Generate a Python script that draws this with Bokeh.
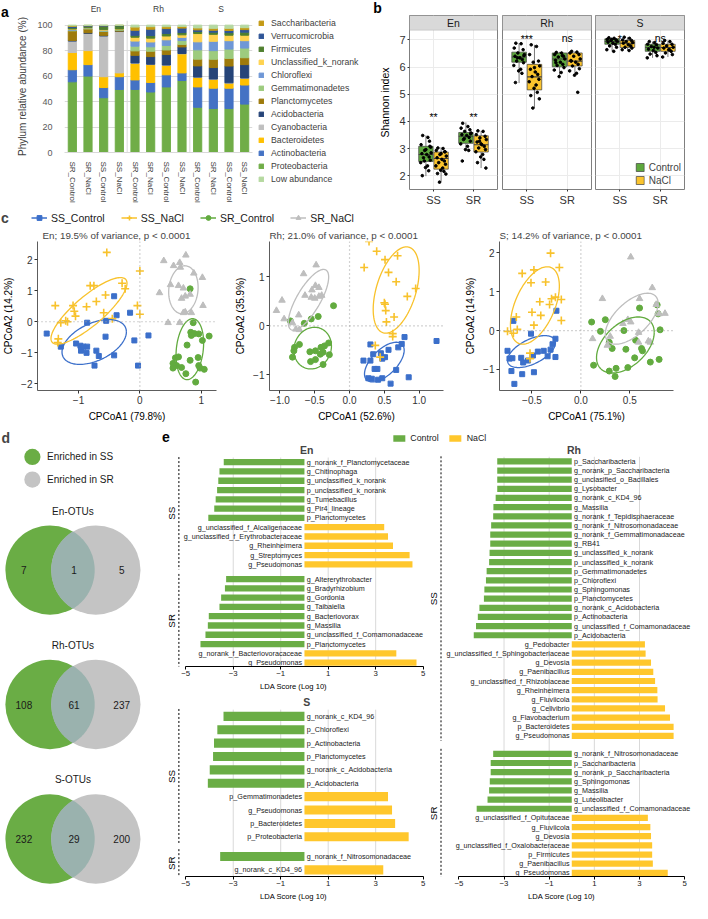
import numpy as np
from math import pi
from bokeh.plotting import figure
from bokeh.models import (Range1d, Legend, LegendItem, Span, BoxAnnotation, Label, LinearAxis, FixedTicker,
                          ColumnDataSource)
from bokeh.layouts import row, column
from bokeh.embed import file_html
from bokeh.resources import INLINE
from bokeh.core.properties import value

FONT = "Liberation Sans"
KX = 692.0 / 708.0
KY = 903.0 / 919.0

# ---------------- panel a data ----------------
bar_groups = ["En", "Rh", "S"]
bar_samples = ["SR_Control", "SR_NaCl", "SS_Control", "SS_NaCl"]
phyla_stack = ["Proteobacteria", "Actinobacteria", "Bacteroidetes", "Cyanobacteria", "Acidobacteria",
               "Planctomycetes", "Gemmatimonadetes", "Chloroflexi", "Unclassified_k_norank", "Firmicutes",
               "Verrucomicrobia", "Saccharibacteria", "Low abundance"]
proteobacteria = [55.5, 60, 43, 49.5, 49.5, 47.5, 51.5, 56.5, 35.5, 34.5, 34.5, 38]
actinobacteria = [9.5, 9, 8, 10, 7.5, 7.5, 9.5, 6, 16, 16, 16, 15]
bacteroidetes = [13.5, 11, 8.5, 3, 13, 14, 7.5, 15, 7.5, 7, 4, 5.3]
cyanobacteria = [9, 13.5, 32, 32.5, 0.3, 0.3, 0.2, 0.2, 0.2, 0.2, 0.2, 0.2]
acidobacteria = [0.5, 0.5, 0.5, 0.3, 6, 6, 8.2, 5.2, 8.8, 9, 13.2, 10.5]
planctomycetes = [7.5, 3, 3, 0.7, 3.5, 4.2, 3.6, 2, 5.3, 6.5, 6, 5.4]
gemmatimonadetes = [0.5, 0.5, 0.5, 0.5, 3.7, 3.5, 3.6, 3, 7.3, 6.8, 7.3, 7.6]
chloroflexi = [0.5, 0.3, 0.5, 0.2, 4, 3.8, 4.4, 2.5, 6.3, 7.3, 6.6, 5.8]
unclassified_k_norank = [0.5, 0.2, 0.5, 0.3, 3, 3, 3, 2, 6.5, 5.5, 4.3, 4.3]
firmicutes = [1, 1, 2.5, 2.5, 1.5, 2, 2, 1.8, 1.6, 1.7, 2, 2.4]
verrucomicrobia = [1, 0.5, 0.5, 0.2, 4, 5, 3.8, 3.5, 1.3, 1.5, 1.7, 2]
saccharibacteria = [0.5, 0.3, 0.3, 0.2, 2.5, 2, 1.5, 1.3, 1.5, 1.5, 1.7, 1.5]
low_abundance = [0.5, 0.2, 0.2, 0.1, 1.5, 1.2, 1.2, 1, 2.2, 2.5, 2.5, 2]
phylum_colors = ["#70AD47", "#4472C4", "#FFC000", "#BFBFBF", "#264478", "#9E7A0B", "#9DCB7E",
                 "#6F97D6", "#FFD34F", "#4F7F2E", "#2F5597", "#C49A14", "#B5D9A0"]
legend_order_a = ["Saccharibacteria", "Verrucomicrobia", "Firmicutes", "Unclassified_k_norank", "Chloroflexi",
                  "Gemmatimonadetes", "Planctomycetes", "Acidobacteria", "Cyanobacteria", "Bacteroidetes",
                  "Actinobacteria", "Proteobacteria", "Low abundance"]

# ---------------- panel b data ----------------
shannon_facets = ["En", "Rh", "S"]
shannon_sites = ["SS", "SR"]
shannon_treatments = ["Control", "NaCl"]
# order inside each facet: SS-Control, SS-NaCl, SR-Control, SR-NaCl
shannon_lower = [1.98, 1.76, 2.96, 2.28, 5.41, 4.49, 5.64, 5.70, 6.58, 6.61, 6.34, 6.37]
shannon_q1 = [2.52, 2.24, 3.19, 2.87, 6.18, 5.16, 6.01, 6.04, 6.84, 6.72, 6.58, 6.58]
shannon_median = [2.78, 2.63, 3.45, 3.14, 6.37, 5.64, 6.30, 6.22, 6.94, 6.88, 6.72, 6.72]
shannon_q3 = [3.08, 2.87, 3.59, 3.47, 6.55, 6.10, 6.52, 6.52, 7.04, 6.98, 6.84, 6.84]
shannon_upper = [3.48, 3.05, 3.96, 3.65, 6.88, 6.82, 6.56, 6.58, 7.08, 7.10, 6.94, 6.98]
en_ss_control_pts = [3.48, 3.41, 3.14, 3.08, 2.93, 2.84, 2.81, 2.78, 2.69, 2.66, 2.57, 2.48, 2.36, 2.30, 2.18, 2.00, 3.05, 2.54, 2.96, 3.27]
en_ss_nacl_pts = [3.02, 3.00, 2.93, 2.88, 2.78, 2.72, 2.66, 2.60, 2.54, 2.48, 2.42, 2.36, 2.28, 2.20, 2.16, 2.08, 2.06, 1.76, 2.81, 2.88]
en_sr_control_pts = [3.93, 3.81, 3.75, 3.69, 3.63, 3.57, 3.51, 3.48, 3.41, 3.33, 3.27, 3.17, 3.08, 2.96, 2.93, 2.54, 3.54, 3.37]
en_sr_nacl_pts = [3.65, 3.63, 3.51, 3.45, 3.39, 3.33, 3.24, 3.14, 3.08, 3.02, 2.96, 2.88, 2.78, 2.69, 2.60, 2.48, 2.28, 3.27, 3.17]
rh_ss_control_pts = [6.88, 6.86, 6.70, 6.64, 6.52, 6.46, 6.40, 6.34, 6.28, 6.22, 6.16, 6.06, 5.92, 5.86, 5.77, 5.43, 6.42, 6.34]
rh_ss_nacl_pts = [6.82, 6.76, 6.46, 6.22, 6.18, 6.04, 5.92, 5.82, 5.73, 5.65, 5.55, 5.46, 5.34, 5.22, 5.07, 4.95, 4.83, 4.49, 5.98]
rh_sr_control_pts = [6.54, 6.52, 6.46, 6.40, 6.37, 6.30, 6.25, 6.18, 6.10, 6.06, 5.98, 5.89, 5.80, 5.65, 6.42, 6.16]
rh_sr_nacl_pts = [6.58, 6.55, 6.52, 6.46, 6.40, 6.30, 6.24, 6.18, 6.10, 6.04, 5.94, 5.86, 5.77, 5.70, 5.07, 6.22]
s_ss_control_pts = [7.08, 7.06, 7.02, 7.00, 6.98, 6.94, 6.92, 6.88, 6.84, 6.78, 6.73, 6.64, 6.58, 7.02]
s_ss_nacl_pts = [7.10, 7.06, 7.00, 6.98, 6.94, 6.90, 6.88, 6.82, 6.78, 6.73, 6.70, 6.64, 6.61]
s_sr_control_pts = [6.94, 6.90, 6.84, 6.82, 6.76, 6.70, 6.66, 6.61, 6.54, 6.48, 6.42, 6.34, 6.73]
s_sr_nacl_pts = [6.98, 6.94, 6.88, 6.84, 6.78, 6.73, 6.70, 6.64, 6.58, 6.52, 6.46, 6.37, 6.64]
shannon_points = [en_ss_control_pts, en_ss_nacl_pts, en_sr_control_pts, en_sr_nacl_pts,
                  rh_ss_control_pts, rh_ss_nacl_pts, rh_sr_control_pts, rh_sr_nacl_pts,
                  s_ss_control_pts, s_ss_nacl_pts, s_sr_control_pts, s_sr_nacl_pts]
shannon_signif = ["**", "**", "***", "ns", "*", "ns"]
shannon_signif_y = [4.17, 4.17, 7.03, 7.08, 7.03, 7.08]

# ---------------- panel c data ----------------
cpcoa_groups = ["SS_Control", "SS_NaCl", "SR_Control", "SR_NaCl"]
cpcoa_titles = ["En; 19.5% of variance, p < 0.0001", "Rh; 21.0% of variance, p < 0.0001",
                "S; 14.2% of variance, p < 0.0001"]
cpcoa_xlabels = ["CPCoA1 (79.8%)", "CPCoA1 (52.6%)", "CPCoA1 (75.1%)"]
cpcoa_ylabels = ["CPCoA2 (14.2%)", "CPCoA2 (35.9%)", "CPCoA2 (14.9%)"]
en_ss_control_x = [-0.42, -0.16, -0.38, -0.86, -0.55, -1.52, -1.29, -1.04, -0.97, -0.96, -0.92, -0.86, -0.87, -0.71, -0.67, -0.74, -0.56, -0.42, -0.09, 0.14, -0.03]
en_ss_control_y = [0.82, 0.29, 0.21, -0.03, 0.03, -0.38, -0.80, -0.70, -0.77, -0.93, -0.80, -0.80, -1.00, -0.93, -1.10, -1.41, -0.48, -1.08, -0.60, -0.44, -1.41]
en_ss_nacl_x = [-0.54, 0.00, -0.81, -0.75, -0.29, -0.24, -0.56, -1.38, -1.09, -0.87, -0.71, -1.07, -1.05, -1.29, -1.21, -1.18, -0.59, -0.45, -0.04, 0.00, -1.33, -1.34]
en_ss_nacl_y = [2.23, 1.63, 1.16, 1.16, 1.24, 1.06, 0.86, 0.52, 0.52, 0.48, 0.65, 0.34, 0.18, -0.03, 0.03, 0.00, 0.29, 0.10, 0.52, 0.24, -0.55, -0.67]
en_sr_control_x = [0.82, 0.87, 0.83, 0.89, 0.84, 0.96, 1.13, 1.02, 0.77, 0.58, 0.63, 0.54, 0.60, 0.68, 0.82, 0.95, 0.96, 0.98, 0.75, 0.91, 1.05, 0.54]
en_sr_control_y = [1.06, -0.03, -0.34, -0.38, -0.44, -0.39, -0.46, -0.60, -0.75, -1.16, -1.13, -1.34, -1.41, -1.47, -1.24, -1.15, -1.41, -1.49, -1.67, -1.94, -1.53, -1.49]
en_sr_nacl_x = [0.39, 0.75, 0.65, 0.55, 0.66, 0.88, 1.02, 0.50, 0.63, 0.71, 0.32, 0.82, 0.74, 0.68, 1.03, 0.74, 0.84, 0.71, 0.46, 0.65]
en_sr_nacl_y = [1.96, 2.14, 1.90, 1.80, 1.75, 1.56, 1.42, 1.19, 1.16, 1.08, 0.93, 0.88, 0.82, 0.75, 0.52, 0.31, 0.29, 0.29, -0.03, -0.03]
rh_ss_control_x = [1.25, 0.79, 0.75, 0.70, 0.30, 0.45, 0.51, 0.47, 0.20, 0.30, 0.36, 0.40, 0.27, 0.32, 0.47, 0.41, 0.67, 0.59, 0.85, 0.34, 0.56]
rh_ss_control_y = [-0.31, -0.23, -0.37, -0.44, -0.38, -0.56, -0.64, -0.67, -0.71, -0.71, -0.88, -0.88, -1.07, -1.08, -1.07, -1.10, -0.90, -1.18, -1.05, -0.58, -0.49]
rh_ss_nacl_x = [0.67, 0.95, 0.83, 0.50, 0.52, 0.51, 0.64, 0.53, 0.62, 0.62, 0.37, 0.44, 0.28, 0.39, 0.51, 0.69, 0.21, 0.56]
rh_ss_nacl_y = [0.90, 0.76, 0.60, 0.47, 0.31, 0.44, 0.18, 0.08, -0.16, -0.22, -0.40, -0.64, 1.72, 1.52, 1.35, 1.43, 1.19, 1.09]
rh_sr_control_x = [-0.23, -0.45, -0.55, -0.85, -0.65, -0.72, -0.79, -0.82, -0.80, -0.57, -0.49, -0.41, -0.36, -0.30, -0.29, -0.38, -0.56, -0.49, -0.38, -0.42]
rh_sr_control_y = [0.41, 0.19, 0.14, 0.10, 0.05, -0.38, -0.44, -0.64, -0.51, -0.53, -0.51, -0.44, -0.41, -0.35, -0.59, -0.54, -0.73, -0.69, -0.79, -0.58]
rh_sr_nacl_x = [-0.49, -0.44, -0.54, -0.64, -0.55, -0.50, -0.44, -0.40, -0.97, -1.05, -0.94, -0.73, -0.82, -0.77, -0.72, -0.66, -0.48]
rh_sr_nacl_y = [0.82, 0.78, 0.73, 0.62, 0.58, 0.56, 0.60, 0.62, 0.52, 0.31, 0.14, 0.22, 0.06, -0.07, -0.08, 1.06, 1.24]
s_ss_control_x = [-0.25, -0.69, -0.51, -0.26, -0.31, -0.38, -0.44, -0.49, -0.54, -0.59, -0.34, -0.26, -0.75, -0.73, -0.70, -0.71, -0.60, -0.48, -0.68, -0.29, -0.61]
s_ss_control_y = [0.51, 0.25, -0.08, -0.21, -0.49, -0.52, -0.54, -0.64, -0.77, -0.82, -0.66, -0.68, -0.52, -0.72, -0.71, -1.04, -1.12, -1.07, -1.37, -0.35, -0.70]
s_ss_nacl_x = [-0.51, -0.36, -0.42, -0.32, -0.26, -0.30, -0.20, -0.20, -0.50, -0.41, -0.48, -0.66, -0.65, -0.75, -0.69, -0.52, -0.52, -0.31, -0.22, -0.48, -0.60]
s_ss_nacl_y = [1.23, 1.25, 0.74, 0.67, 0.86, 0.82, 0.80, 0.26, 0.47, 0.39, 0.14, 0.35, 0.03, -0.02, -0.07, -0.58, -0.72, 1.99, 1.62, 1.56, 1.47]
s_sr_control_x = [0.11, 0.25, 0.60, 0.78, 0.79, 0.44, 0.56, 0.81, 0.20, 0.29, 0.32, 0.46, 0.62, 0.63, 0.55, 0.80, 0.13, 0.29, 0.36, 0.48, 0.35, 0.71]
s_sr_control_y = [0.22, 0.28, 0.58, 0.66, 0.43, 0.00, -0.25, 0.02, -0.02, -0.30, -0.46, -0.48, -0.46, -0.52, -0.70, -0.74, -0.89, -1.04, -0.97, -0.95, -1.18, -0.81]
s_sr_nacl_x = [0.22, 0.73, 0.60, 0.86, 0.80, 0.77, 0.48, 0.51, 0.43, 0.59, 0.69, 0.71, 0.59, 0.27, 0.12, 0.30, 0.51]
s_sr_nacl_y = [0.82, 1.10, 0.82, 0.44, 0.43, 0.67, 0.28, 0.22, 0.18, -0.05, -0.27, -0.30, -0.30, -0.38, -0.21, -0.15, 1.89]
# ellipse outlines: centre, half extents, tilt (order as cpcoa_groups)
en_ell_cx = [-0.745, -0.83, 0.815, 0.71]
en_ell_cy = [-0.65, 0.35, -0.88, 1.03]
en_ell_rx = [0.525, 0.62, 0.225, 0.24]
en_ell_ry = [0.72, 1.07, 0.98, 0.77]
en_ell_rho = [0.45, 0.83, 0.2, 0.1]
rh_ell_cx = [0.50, 0.67, -0.53, -0.59]
rh_ell_cy = [-0.74, 0.73, -0.455, 0.53]
rh_ell_rx = [0.285, 0.33, 0.27, 0.29]
rh_ell_ry = [0.405, 0.88, 0.425, 0.62]
rh_ell_rho = [0.6, 0.45, 0.1, 0.75]
s_ell_cx = [-0.505, -0.47, 0.455, 0.52]
s_ell_cy = [-0.54, 0.645, -0.37, 0.305]
s_ell_rx = [0.245, 0.25, 0.295, 0.27]
s_ell_ry = [0.41, 0.995, 0.72, 0.655]
s_ell_rho = [0.55, 0.5, 0.45, 0.6]

# ---------------- panel d data ----------------
venn_sets = ["En-OTUs", "Rh-OTUs", "S-OTUs"]
venn_ss_only = [7, 108, 232]
venn_shared = [1, 61, 29]
venn_sr_only = [5, 237, 200]
venn_legend = ["Enriched in SS", "Enriched in SR"]

# ---------------- panel e data ----------------
en_lda_names = ["g_norank_f_Planctomycetaceae", "g_Chitinophaga", "g_unclassified_k_norank", "p_unclassified_k_norank",
                "g_Tumebacillus", "g_Pir4_lineage", "p_Planctomycetes", "g_unclassified_f_Alcaligenaceae",
                "g_unclassified_f_Erythrobacteraceae", "g_Rheinheimera", "g_Streptomyces", "g_Pseudomonas",
                "g_Altererythrobacter", "g_Bradyrhizobium", "g_Gordonia", "g_Taibaiella", "g_Bacteriovorax",
                "g_Massilia", "g_unclassified_f_Comamonadaceae", "p_Planctomycetes",
                "g_norank_f_Bacteriovoracaceae", "g_Pseudomonas"]
en_lda_scores = [-3.40, -3.58, -3.63, -3.68, -3.74, -3.80, -4.05, 3.36, 3.52, 3.73, 4.43, 4.55,
                 -3.30, -3.35, -3.51, -3.58, -4.03, -4.07, -4.17, -4.38, 3.87, 4.72]
en_lda_groups = ["SS"] * 12 + ["SR"] * 10
s_lda_names = ["g_norank_c_KD4_96", "p_Chloroflexi", "p_Actinobacteria", "p_Planctomycetes",
               "g_norank_c_Acidobacteria", "p_Acidobacteria", "p_Gemmatimonadetes", "g_Pseudomonas",
               "p_Bacteroidetes", "p_Proteobacteria", "g_norank_f_Nitrosomonadaceae", "g_norank_c_KD4_96"]
s_lda_scores = [-3.41, -3.67, -3.81, -3.85, -3.99, -4.07, 3.52, 3.69, 3.82, 4.39, -3.55, 3.32]
s_lda_groups = ["SS"] * 10 + ["SR"] * 2
rh_lda_names = ["p_Saccharibacteria", "g_norank_p_Saccharibacteria", "g_unclasified_o_Bacillales", "g_Lysobacter",
                "g_norank_c_KD4_96", "g_Massilia", "g_norank_f_Tepidisphaeraceae", "g_norank_f_Nitrosomonadaceae",
                "g_norank_f_Gemmatimonadaceae", "g_RB41", "g_unclassified_k_norank", "p_unclassified_k_norank",
                "p_Gemmatimonadetes", "p_Chloroflexi", "g_Sphingomonas", "p_Planctomycetes",
                "g_norank_c_Acidobacteria", "p_Actinobacteria", "g_unclassified_f_Comamonadaceae", "p_Acidobacteria",
                "g_Pedobacter", "g_unclassified_f_Sphingobacteriaceae", "g_Devosia", "g_Paenibacillus",
                "g_unclassified_f_Rhizobiaceae", "g_Rheinheimera", "g_Fluviicola", "g_Cellvibrio",
                "g_Flavobacterium", "p_Bacteroidetes", "g_Pseudomonas",
                "g_norank_f_Nitrosomonadaceae", "p_Saccharibacteria", "g_norank_p_Saccharibacteria", "g_Sphingomonas",
                "g_Massilia", "g_Luteolibacter", "g_unclassified_f_Comamonadaceae", "g_unclassified_f_Opitutaceae",
                "g_Fluviicola", "g_Devosia", "g_unclassified_f_Oxalobacteraceae", "p_Firmicutes", "g_Paenibacillus",
                "g_Pseudomonas"]
rh_lda_scores = [-3.30, -3.30, -3.30, -3.30, -3.37, -3.47, -3.48, -3.57, -3.61, -3.61, -3.64, -3.66, -3.77, -3.80,
                 -3.87, -3.89, -4.09, -4.16, -4.24, -4.34, 3.24, 3.27, 3.51, 3.61, 3.69, 3.79, 3.80, 4.13, 4.35,
                 4.51, 4.51,
                 -3.48, -3.59, -3.59, -3.63, -3.66, -3.73, -4.21, 3.37, 3.48, 3.51, 3.56, 3.56, 3.59, 4.25]
rh_lda_groups = ["SS"] * 31 + ["SR"] * 14
lda_legend = ["Control", "NaCl"]

# ---------------- styling ----------------
GREEN = "#6AAD45"
YELLOW = "#FFC72C"
BOX_GREEN = "#5EA83D"
BOX_YELLOW = "#FBC42D"
PT_COLORS = ["#3B6FCA", "#F8C22C", "#62AB3F", "#BEBEBE"]
PT_MARKERS = ["square", "cross", "circle", "triangle"]
PT_SIZES = [5, 8, 6, 6.5]
JITTER = [-0.08, 0.05, -0.12, 0.10, -0.03, 0.13, -0.10, 0.02, 0.08, -0.06, 0.11, -0.13, 0.04, -0.01,
          0.07, -0.09, 0.12, -0.04, 0.00, 0.09, -0.11, 0.06]
LDA_FS = "7.2px"


def sx(v):
    return int(round(v * KX))


def sy(v):
    return int(round(v * KY))


def base_fig(cx0, cx1, cy0, cy1, fx0, fx1, fy0, fy1, **kw):
    p = figure(width=sx(cx1) - sx(cx0), height=sy(cy1) - sy(cy0),
               min_border_left=sx(fx0) - sx(cx0), min_border_right=sx(cx1) - sx(fx1),
               min_border_top=sy(fy0) - sy(cy0), min_border_bottom=sy(cy1) - sy(fy1),
               output_backend="svg", toolbar_location=None, **kw)
    p.outline_line_color = None
    p.background_fill_color = "white"
    p.border_fill_color = "white"
    return p


def box(fig):
    # wrap a figure so that the layout does not align its frame with its neighbours
    return column(fig)


def letter_fig(cx0, cx1, cy0, cy1, text, rx, ry):
    p = base_fig(cx0, cx1, cy0, cy1, cx0, cx1, cy0, cy1, x_range=Range1d(cx0, cx1), y_range=Range1d(cy1, cy0),
                 x_axis_location=None, y_axis_location=None)
    p.grid.visible = False
    p.add_layout(Label(x=rx, y=ry, text=text, text_font=FONT, text_font_size="14px", text_font_style="bold",
                       text_align="left", text_baseline="middle", text_color="black"))
    return p


def style_axis(ax, size="11px", color="#4D4D4D"):
    ax.major_label_text_font = FONT
    ax.major_label_text_font_size = size
    ax.major_label_text_color = color
    ax.axis_label_text_font = FONT
    ax.axis_label_text_font_style = "normal"
    ax.axis_label_text_color = "black"
    ax.minor_tick_line_color = None


# ================= panel a =================
n_bars = len(bar_groups) * len(bar_samples)
bar_x = [i + 0.5 for i in range(n_bars)]
bar_labels = [s for g in bar_groups for s in bar_samples]
phylum_values = [proteobacteria, actinobacteria, bacteroidetes, cyanobacteria, acidobacteria, planctomycetes,
                 gemmatimonadetes, chloroflexi, unclassified_k_norank, firmicutes, verrucomicrobia,
                 saccharibacteria, low_abundance]
src_a = {"x": bar_x}
for nm, vals in zip(phyla_stack, phylum_values):
    src_a[nm] = vals
la = letter_fig(0, 14, 0, 213, "a", 0.5, 12)
pa = base_fig(14, 260, 0, 213, 52, 258, 13, 155, x_range=Range1d(0, n_bars), y_range=Range1d(0, 103.65))
pa.vbar_stack(phyla_stack, x="x", width=0.52, color=phylum_colors, source=ColumnDataSource(src_a))
pa.ygrid.grid_line_color = "#D9D9D9"
pa.xgrid.grid_line_color = None
pa.yaxis.ticker = FixedTicker(ticks=[0, 20, 40, 60, 80, 100])
style_axis(pa.yaxis[0], "9px", "#595959")
pa.yaxis.axis_line_color = None
pa.yaxis.major_tick_line_color = None
pa.yaxis.axis_label = "Phylum relative abundance (%)"
pa.yaxis.axis_label_text_font_size = "10px"
pa.yaxis.axis_label_text_color = "#404040"
pa.yaxis.axis_label_standoff = 6
pa.yaxis.major_label_standoff = 6
pa.xaxis.ticker = FixedTicker(ticks=bar_x)
pa.xaxis.major_label_overrides = dict(zip(bar_x, bar_labels))
style_axis(pa.xaxis[0], "8px", "#404040")
pa.xaxis.major_label_orientation = "vertical"
pa.xaxis.axis_line_color = "#D9D9D9"
pa.xaxis.major_tick_line_color = None
pa.xaxis.major_label_standoff = 3
grp_centers = [(k + 0.5) * len(bar_samples) for k in range(len(bar_groups))]
ax_top = LinearAxis(ticker=FixedTicker(ticks=grp_centers), axis_line_color=None, major_tick_line_color=None,
                    minor_tick_line_color=None, major_label_standoff=1)
ax_top.major_label_overrides = dict(zip(grp_centers, bar_groups))
style_axis(ax_top, "8.5px", "#404040")
pa.add_layout(ax_top, "above")
for k in range(1, len(bar_groups)):
    pa.add_layout(Span(location=k * len(bar_samples), dimension="height", line_color="#D9D9D9", line_width=1))

# legend of panel a in its own frame (renderers hidden, legend glyphs only)
pal = base_fig(260, 370, 0, 213, 260, 370, 13, 213, x_range=Range1d(0, 1), y_range=Range1d(0, 1),
               x_axis_location=None, y_axis_location=None)
pal.grid.visible = False
rs_leg = pal.vbar_stack(phyla_stack, x="x", width=0.52, color=phylum_colors, source=ColumnDataSource(src_a),
                        visible=False)
rmap = dict(zip(phyla_stack, rs_leg))
leg_a = Legend(items=[LegendItem(label=nm, renderers=[rmap[nm]]) for nm in legend_order_a],
               location="top_left", glyph_width=6, glyph_height=6, label_height=11, spacing=2,
               padding=0, margin=4, label_standoff=7, border_line_color=None, background_fill_alpha=0,
               label_text_font=FONT, label_text_font_size="8.7px", label_text_color="#404040",
               inactive_fill_alpha=0)
pal.add_layout(leg_a)

# ================= panel b =================
b_canvas = [(370, 511, 418.3, 509), (511, 606, 513.3, 604.3), (606, 708, 608.3, 700)]
pbs = []
for fi, facet in enumerate(shannon_facets):
    cx0, cx1, fx0, fx1 = b_canvas[fi]
    cy0 = 15 if fi == 0 else 0
    p = base_fig(cx0, cx1, cy0, 213, fx0, fx1, 15, 192.3,
                 x_range=Range1d(0.4, 2.6), y_range=Range1d(1.49, 7.90))
    p.outline_line_color = "#7F7F7F"
    p.xaxis.ticker = FixedTicker(ticks=[1, 2])
    p.xaxis.major_label_overrides = {1: shannon_sites[0], 2: shannon_sites[1]}
    p.yaxis.ticker = FixedTicker(ticks=[2, 3, 4, 5, 6, 7])
    for ax in (p.xaxis[0], p.yaxis[0]):
        style_axis(ax, "11px", "#333333")
        ax.axis_line_color = None
        ax.major_tick_line_color = "#333333"
        ax.major_tick_out = 2
        ax.major_tick_in = 0
        ax.major_label_standoff = 2
    p.grid.grid_line_color = "#EBEBEB"
    if fi == 0:
        p.yaxis.axis_label = "Shannon index"
        p.yaxis.axis_label_text_font_size = "10.5px"
        p.yaxis.axis_label_standoff = 5
    else:
        p.yaxis.visible = False
    box_r = []
    for ti, trt in enumerate(shannon_treatments):
        xs, q1s, q3s, meds, los, his = [], [], [], [], [], []
        for si, site in enumerate(shannon_sites):
            k = fi * 4 + si * 2 + ti
            xc = (si + 1) + (ti - 0.5) * 0.38
            xs.append(xc)
            q1s.append(shannon_q1[k]); q3s.append(shannon_q3[k]); meds.append(shannon_median[k])
            los.append(shannon_lower[k]); his.append(shannon_upper[k])
        xs = np.array(xs)
        p.segment(x0=xs, y0=q3s, x1=xs, y1=his, line_color="#595959", line_width=0.8)
        p.segment(x0=xs, y0=los, x1=xs, y1=q1s, line_color="#595959", line_width=0.8)
        r = p.quad(left=xs - 0.18, right=xs + 0.18, bottom=q1s, top=q3s,
                   fill_color=BOX_GREEN if ti == 0 else BOX_YELLOW, line_color="#404040", line_width=0.7)
        box_r.append(r)
        p.segment(x0=xs - 0.18, y0=meds, x1=xs + 0.18, y1=meds, line_color="#404040", line_width=1.1)
        for si in range(len(shannon_sites)):
            k = fi * 4 + si * 2 + ti
            pts = shannon_points[k]
            jx = [xs[si] + JITTER[j % len(JITTER)] for j in range(len(pts))]
            p.scatter(x=jx, y=pts, size=2.6, color="black")
    p.text(x=[1, 2], y=shannon_signif_y[fi * 2:fi * 2 + 2], text=shannon_signif[fi * 2:fi * 2 + 2],
           text_align="center", text_baseline="alphabetic", text_font=value(FONT), text_font_size="10.5px",
           text_color="black")
    p.add_layout(BoxAnnotation(bottom=7.36, fill_color="#D9D9D9", fill_alpha=1, line_color="#7F7F7F",
                               line_width=0.8))
    p.add_layout(Label(x=1.5, y=7.63, text=facet, text_font=FONT, text_font_size="10.5px",
                       text_align="center", text_baseline="middle", text_color="#1A1A1A"))
    if fi == 2:
        leg_b = Legend(items=[LegendItem(label=shannon_treatments[0], renderers=[box_r[0]]),
                              LegendItem(label=shannon_treatments[1], renderers=[box_r[1]])],
                       location="bottom_right", glyph_width=10, glyph_height=10, label_height=12,
                       spacing=1, padding=2, margin=3, label_standoff=4, border_line_color=None,
                       background_fill_alpha=0, label_text_font=FONT, label_text_font_size="10px")
        p.add_layout(leg_b)
    pbs.append(p)
lb = letter_fig(370, 511, 0, 15, "b", 381, 7)

# ================= panel c legend =================
pcl = base_fig(0, 708, 213, 230, 0, 708, 213, 230, x_range=Range1d(0, 708), y_range=Range1d(230, 213),
               x_axis_location=None, y_axis_location=None)
pcl.grid.visible = False
pcl.add_layout(Label(x=0.5, y=221.5, text="c", text_font=FONT, text_font_size="14px", text_font_style="bold",
                     text_align="left", text_baseline="middle"))
en_pts_for_legend = [(en_ss_control_x, en_ss_control_y), (en_ss_nacl_x, en_ss_nacl_y),
                     (en_sr_control_x, en_sr_control_y), (en_sr_nacl_x, en_sr_nacl_y)]
leg_items = []
for gi, g in enumerate(cpcoa_groups):
    xs, ys = en_pts_for_legend[gi]
    lr = pcl.line(x=xs, y=ys, line_color=PT_COLORS[gi], line_width=1.4, visible=False)
    mr = pcl.scatter(x=xs, y=ys, marker=PT_MARKERS[gi], size=PT_SIZES[gi] + 1, color=PT_COLORS[gi],
                     line_width=1.6 if PT_MARKERS[gi] == "cross" else 1, visible=False)
    leg_items.append(LegendItem(label=g, renderers=[lr, mr]))
leg_c = Legend(items=leg_items, orientation="horizontal", location="center_left", glyph_width=16,
               glyph_height=12, label_height=13, spacing=16, padding=0, margin=sx(32), label_standoff=4,
               border_line_color=None, background_fill_alpha=0, label_text_font=FONT,
               label_text_font_size="10.5px", label_text_color="#1A1A1A", inactive_fill_alpha=0)
pcl.add_layout(leg_c)

# ================= panel c scatter =================
c_canvas = [(0, 237, 36, 221), (237, 473, 270, 453.3), (473, 708, 505, 688.3)]
c_xr = [(-1.67, 1.25), (-1.15, 1.35), (-0.832, 0.947)]
c_yr = [(-2.21, 2.58), (-1.32, 1.72), (-1.54, 2.29)]
c_xt = [[-1, 0, 1], [-1.0, -0.5, 0.0, 0.5, 1.0], [-0.5, 0.0, 0.5]]
c_xt_labels = [["−1", "0", "1"], ["−1.0", "−0.5", "0.0", "0.5", "1.0"], ["−0.5", "0.0", "0.5"]]
c_yt = [[-2, -1, 0, 1, 2], [-1, 0, 1], [-1, 0, 1, 2]]
c_yt_labels = [["−2", "−1", "0", "1", "2"], ["−1", "0", "1"], ["−1", "0", "1", "2"]]
c_pts = [en_pts_for_legend,
         [(rh_ss_control_x, rh_ss_control_y), (rh_ss_nacl_x, rh_ss_nacl_y),
          (rh_sr_control_x, rh_sr_control_y), (rh_sr_nacl_x, rh_sr_nacl_y)],
         [(s_ss_control_x, s_ss_control_y), (s_ss_nacl_x, s_ss_nacl_y),
          (s_sr_control_x, s_sr_control_y), (s_sr_nacl_x, s_sr_nacl_y)]]
c_ell = [(en_ell_cx, en_ell_cy, en_ell_rx, en_ell_ry, en_ell_rho),
         (rh_ell_cx, rh_ell_cy, rh_ell_rx, rh_ell_ry, rh_ell_rho),
         (s_ell_cx, s_ell_cy, s_ell_rx, s_ell_ry, s_ell_rho)]
tt = np.linspace(0, 2 * np.pi, 120)
pcs = []
for ci in range(3):
    cx0, cx1, fx0, fx1 = c_canvas[ci]
    p = base_fig(cx0, cx1, 230, 432, fx0, fx1, 243, 398,
                 x_range=Range1d(*c_xr[ci]), y_range=Range1d(*c_yr[ci]))
    p.grid.visible = False
    p.title.text = cpcoa_titles[ci]
    p.title.align = "left"
    p.title.text_font = FONT
    p.title.text_font_size = "9.8px"
    p.title.text_font_style = "normal"
    p.title.standoff = 2
    p.title.offset = 5 if ci == 0 else 0
    p.xaxis.ticker = FixedTicker(ticks=c_xt[ci])
    p.xaxis.major_label_overrides = dict(zip(c_xt[ci], c_xt_labels[ci]))
    p.yaxis.ticker = FixedTicker(ticks=c_yt[ci])
    p.yaxis.major_label_overrides = dict(zip(c_yt[ci], c_yt_labels[ci]))
    p.xaxis.axis_label = cpcoa_xlabels[ci]
    p.yaxis.axis_label = cpcoa_ylabels[ci]
    for ax in (p.xaxis[0], p.yaxis[0]):
        style_axis(ax, "10px", "#333333")
        ax.axis_label_text_font_size = "10px"
        ax.axis_line_color = "#333333"
        ax.axis_line_width = 0.8
        ax.major_tick_line_color = "#333333"
        ax.major_tick_out = 3
        ax.major_tick_in = 0
        ax.major_label_standoff = 2
        ax.axis_label_standoff = 4
    p.add_layout(Span(location=0, dimension="width", line_color="#A6A6A6", line_dash="1 3", line_width=1.2))
    p.add_layout(Span(location=0, dimension="height", line_color="#A6A6A6", line_dash="1 3", line_width=1.2))
    ecx, ecy, erx, ery, erho = c_ell[ci]
    for gi in range(4):
        xs, ys = c_pts[ci][gi]
        p.scatter(x=xs, y=ys, marker=PT_MARKERS[gi], size=PT_SIZES[gi], color=PT_COLORS[gi],
                  line_width=1.6 if PT_MARKERS[gi] == "cross" else 1)
    for gi in range(4):
        ex = ecx[gi] + erx[gi] * np.cos(tt)
        ey = ecy[gi] + ery[gi] * (erho[gi] * np.cos(tt) + np.sqrt(1 - erho[gi] ** 2) * np.sin(tt))
        p.line(x=ex, y=ey, line_color=PT_COLORS[gi], line_width=1.3)
    pcs.append(p)

# ================= panel d (Venn) =================
pd_ = base_fig(0, 160, 432, 919, 0, 160, 432, 919, x_range=Range1d(0, 160), y_range=Range1d(919, 432),
               x_axis_location=None, y_axis_location=None)
pd_.grid.visible = False
pd_.add_layout(Label(x=1, y=445.5, text="d", text_font=FONT, text_font_size="14px", text_font_style="bold",
                     text_baseline="middle"))
leg_cols = [GREEN, "#C4C4C4"]
ly = [465 + 23 * i for i in range(len(venn_legend))]
pd_.circle(x=[32.7] * len(venn_legend), y=ly, radius=8.3, fill_color=leg_cols, line_color=None)
pd_.text(x=[47.7] * len(venn_legend), y=ly, text=venn_legend, text_font=value(FONT), text_font_size="10px",
         text_baseline="middle", text_color="#1A1A1A")
R = 45.8
xa, xb = 50.8, 97.8
dd = xb - xa
alpha = np.arccos(dd / (2 * R))
for i, nm in enumerate(venn_sets):
    cy = 580 + i * 136.7
    pd_.circle(x=[xa], y=[cy], radius=R, fill_color=GREEN, line_color=None)
    pd_.circle(x=[xb], y=[cy], radius=R, fill_color="#C4C4C4", line_color=None)
    t1 = np.linspace(-alpha, alpha, 60)
    t2 = np.linspace(np.pi - alpha, np.pi + alpha, 60)
    lx = np.concatenate([xa + R * np.cos(t1), xb + R * np.cos(t2)])
    lyy = np.concatenate([cy + R * np.sin(t1), cy + R * np.sin(t2)])
    pd_.patch(x=lx, y=lyy, fill_color="#9AB2AE", line_color=None)
    pd_.text(x=[74.3], y=[cy - 60], text=[nm], text_font=value(FONT), text_font_size="10px",
             text_align="center", text_baseline="middle", text_color="#1A1A1A")
    pd_.text(x=[24, 75.5, 124.3], y=[cy] * 3,
             text=[str(venn_ss_only[i]), str(venn_shared[i]), str(venn_sr_only[i])],
             text_font=value(FONT), text_font_size="10px", text_align="center", text_baseline="middle",
             text_color="#1A1A1A")


# ================= panel e (LDA) =================
def lda_fig(cx0, cx1, cy0, cy1, fx0, fx1, fy1, zero_ref, ppu, names, scores, grps, gap,
            row0, spacing, title, title_y, dash_x, glab_x):
    order = []
    for g in grps:
        if g not in order:
            order.append(g)
    pos = np.array([-(i + gap * order.index(g)) for i, g in enumerate(grps)])
    sc = np.array(scores)
    xr = Range1d((fx0 - zero_ref) / ppu, (fx1 - zero_ref) / ppu)
    yr = Range1d(-(fy1 - row0) / spacing, (row0 - cy0) / spacing)
    p = base_fig(cx0, cx1, cy0, cy1, fx0, fx1, cy0, fy1, x_range=xr, y_range=yr, y_axis_location=None)
    p.grid.visible = False
    p.xaxis.ticker = FixedTicker(ticks=[-5, -3, -1, 1, 3, 5])
    p.xaxis.bounds = (-5, 5)
    style_axis(p.xaxis[0], "7.8px", "#1A1A1A")
    p.xaxis.axis_line_color = "black"
    p.xaxis.axis_line_width = 1.2
    p.xaxis.major_tick_line_color = "black"
    p.xaxis.major_tick_out = 3
    p.xaxis.major_tick_in = 0
    p.xaxis.major_label_standoff = 1
    p.xaxis.axis_label = "LDA Score (Log 10)"
    p.xaxis.axis_label_text_font_size = "7.6px"
    p.xaxis.axis_label_standoff = 3
    gx = [-3, -1, 1, 3]
    p.segment(x0=gx, y0=[pos[0] + 0.5] * 4, x1=gx, y1=[yr.start] * 4, line_color="#D9D9D9", line_width=1)
    neg = sc < 0
    p.hbar(y=pos[neg], left=0, right=sc[neg], height=0.68, fill_color=GREEN, line_color=None)
    p.hbar(y=pos[~neg], left=0, right=sc[~neg], height=0.68, fill_color=YELLOW, line_color=None)
    nm = np.array(names)
    p.text(x=[0.1] * int(neg.sum()), y=pos[neg], text=list(nm[neg]), text_align="left", text_baseline="middle",
           text_font=value(FONT), text_font_size=LDA_FS, text_color="#1A1A1A")
    p.text(x=[-0.1] * int((~neg).sum()), y=pos[~neg], text=list(nm[~neg]), text_align="right",
           text_baseline="middle", text_font=value(FONT), text_font_size=LDA_FS, text_color="#1A1A1A")
    gsel = np.array(grps)
    for g in order:
        gp = pos[gsel == g]
        p.segment(x0=[dash_x], y0=[gp[0] + 0.55], x1=[dash_x], y1=[gp[-1] - 0.55], line_color="black",
                  line_dash="2 2", line_width=1)
        p.text(x=[glab_x], y=[(gp[0] + gp[-1]) / 2], text=[g], angle=pi / 2, text_align="center",
               text_baseline="middle", text_font=value(FONT), text_font_size="9.8px", text_color="black")
    p.add_layout(Label(x=0.1, y=(row0 - title_y) / spacing, text=title, text_font=FONT,
                       text_font_size="10.5px", text_font_style="bold", text_align="center",
                       text_baseline="middle"))
    return p


pe_en = lda_fig(160, 437, 453, 706, 163, 437, 678.3, 311.2, 24.27, en_lda_names, en_lda_scores,
                en_lda_groups, 0.58, 470, 9.47, "En", 458, -5.29, -5.61)
pe_s = lda_fig(160, 437, 706, 919, 163, 437, 897.7, 311.2, 24.27, s_lda_names, s_lda_scores,
               s_lda_groups, 0.47, 729, 14.1, "S", 714.3, -5.29, -5.61)
pe_rh = lda_fig(437, 708, 453, 919, 440, 708, 895.7, 584.5, 23.1, rh_lda_names, rh_lda_scores,
                rh_lda_groups, 0.96, 469.3, 9.4, "Rh", 458, -5.79, -6.13)

le = letter_fig(160, 190, 432, 453, "e", 165.5, 444.5)
pel = base_fig(190, 708, 432, 453, 190, 708, 432, 453, x_range=Range1d(190, 708), y_range=Range1d(453, 432),
               x_axis_location=None, y_axis_location=None)
pel.grid.visible = False
lda_sign = np.array(en_lda_scores)
r_ctrl = pel.hbar(y=list(range(int((lda_sign < 0).sum()))), left=0, right=list(lda_sign[lda_sign < 0]),
                  height=0.7, fill_color=GREEN, line_color=None, visible=False)
r_nacl = pel.hbar(y=list(range(int((lda_sign > 0).sum()))), left=0, right=list(lda_sign[lda_sign > 0]),
                  height=0.7, fill_color=YELLOW, line_color=None, visible=False)
leg_e = Legend(items=[LegendItem(label=lda_legend[0], renderers=[r_ctrl]),
                      LegendItem(label=lda_legend[1], renderers=[r_nacl])],
               orientation="horizontal", location="bottom_center", glyph_width=15, glyph_height=8,
               label_height=12, spacing=9, padding=0, margin=1, label_standoff=4, border_line_color=None,
               background_fill_alpha=0, label_text_font=FONT, label_text_font_size="8.8px",
               label_text_color="#1A1A1A", inactive_fill_alpha=0)
pel.add_layout(leg_e)

row1 = row(box(la), box(pa), box(pal), column(box(lb), box(pbs[0])), box(pbs[1]), box(pbs[2]))
row3 = row(box(pcs[0]), box(pcs[1]), box(pcs[2]))
row4 = row(box(pd_), column(row(box(le), box(pel)),
                            row(column(box(pe_en), box(pe_s)), box(pe_rh))))
layout = column(row1, box(pcl), row3, row4)
open("out.html", "w").write(file_html(layout, INLINE))
